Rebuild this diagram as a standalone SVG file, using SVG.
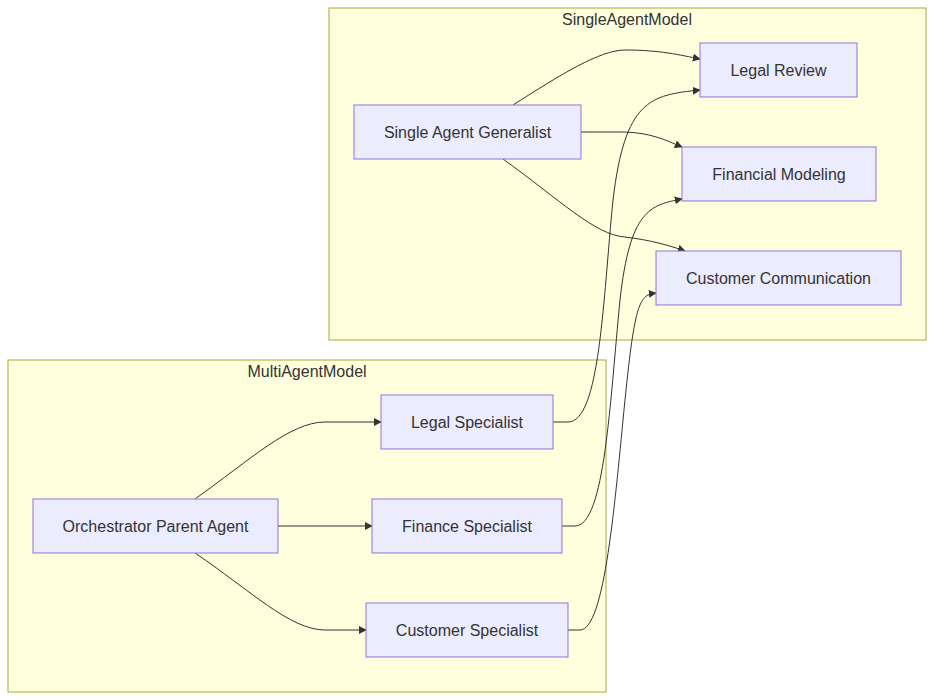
<svg xmlns="http://www.w3.org/2000/svg" width="934" height="700" viewBox="0 0 934 700">
<style>
.c{fill:#ffffde;stroke:#aaaa33;stroke-width:1}
.n{fill:#ececff;stroke:#9370db;stroke-width:1}
text{font-family:"Liberation Sans",Arial,sans-serif;font-size:16px;fill:#333;text-anchor:middle;dominant-baseline:central}
.e{fill:none;stroke:#333;stroke-width:1;marker-end:url(#a)}
</style>
<defs><marker id="a" viewBox="0 0 10 10" refX="9" refY="5" markerWidth="8" markerHeight="8" orient="auto"><path d="M0,0L10,5L0,10z" fill="#333"/></marker></defs>
<g id="SingleAgentModel"><rect class="c" x="329" y="8" width="597" height="332"/><text x="627" y="19">SingleAgentModel</text></g>
<g id="MultiAgentModel"><rect class="c" x="8" y="360" width="598" height="332"/><text x="307" y="371">MultiAgentModel</text></g>
<g id="edges">
<path class="e" d="M513,105 C560,75 600,50 625,50 C660,50 680,55 700,59"/>
<path class="e" d="M581,132 L620,132 C650,132 665,140 682,147"/>
<path class="e" d="M503,159 C560,200 595,235 625,237 C650,240 668,245 685,251"/>
<path class="e" d="M195,499 C250,460 290,422 325,422 L381,422"/>
<path class="e" d="M278,526 L372,526"/>
<path class="e" d="M195,553 C250,590 290,630 325,630 L366,630"/>
<path class="e" d="M553,422 L568,422 C600,422 603,300 613,200 C625,100 650,95 700,90"/>
<path class="e" d="M562,526 L575,526 C605,526 610,400 620,300 C630,210 650,205 682,199"/>
<path class="e" d="M568,630 L580,630 C605,630 615,500 625,400 C635,300 640,295 656,293"/>
</g>
<g id="LegalReview"><rect class="n" x="700" y="43" width="157" height="54"/><text x="778.5" y="70">Legal Review</text></g>
<g id="Generalist"><rect class="n" x="354" y="105" width="227" height="54"/><text x="467.5" y="132">Single Agent Generalist</text></g>
<g id="FinancialModeling"><rect class="n" x="682" y="147" width="194" height="54"/><text x="779" y="174">Financial Modeling</text></g>
<g id="CustomerCommunication"><rect class="n" x="656" y="251" width="245" height="54"/><text x="778.5" y="278">Customer Communication</text></g>
<g id="LegalSpecialist"><rect class="n" x="381" y="395" width="172" height="54"/><text x="467" y="422">Legal Specialist</text></g>
<g id="Orchestrator"><rect class="n" x="33" y="499" width="245" height="54"/><text x="155.5" y="526">Orchestrator Parent Agent</text></g>
<g id="FinanceSpecialist"><rect class="n" x="372" y="499" width="190" height="54"/><text x="467" y="526">Finance Specialist</text></g>
<g id="CustomerSpecialist"><rect class="n" x="366" y="603" width="202" height="54"/><text x="467" y="630">Customer Specialist</text></g>
</svg>
